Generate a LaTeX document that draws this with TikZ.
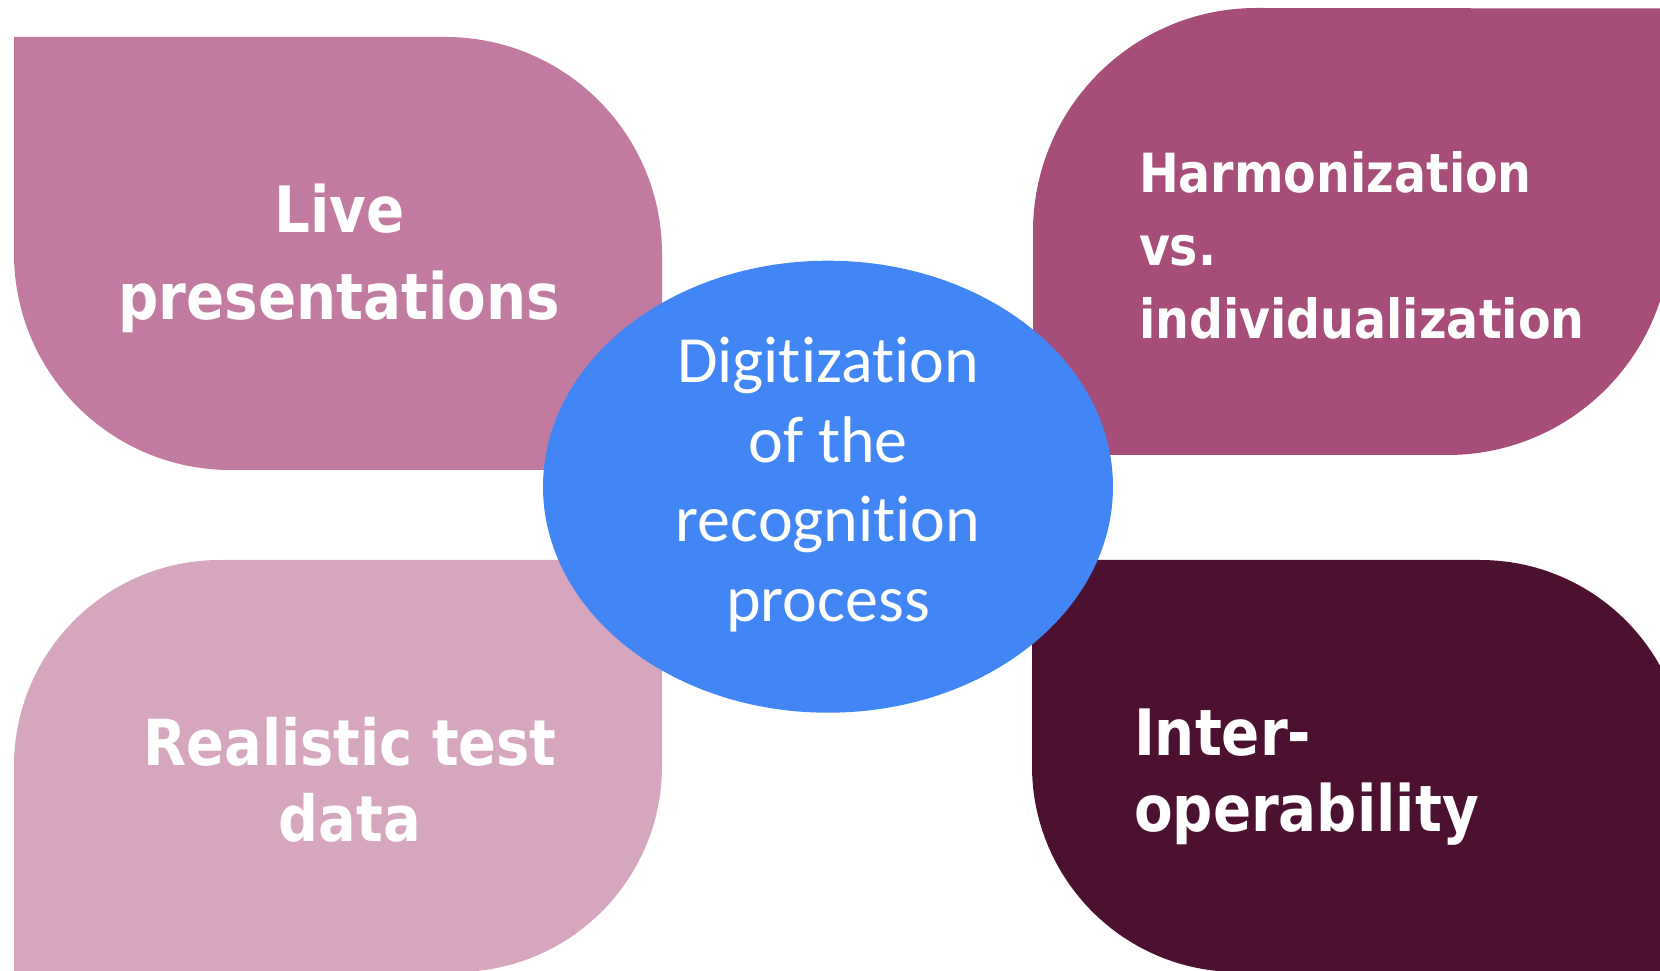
\documentclass[tikz,border=0pt]{standalone}
\usepackage{fontspec}
\usetikzlibrary{shapes.geometric}
\newfontfamily\boxfont{DejaVu Sans Bold}[FakeStretch=0.88]
\newfontfamily\corefont{Carlito}[Ligatures=NoCommon]
\definecolor{cTL}{HTML}{C27BA0}
\definecolor{cTR}{HTML}{A64D79}
\definecolor{cBL}{HTML}{D5A6BD}
\definecolor{cBR}{HTML}{4C1130}
\definecolor{cCore}{HTML}{4285F4}
\tikzset{
  label/.style={text=white, inner sep=0pt, outer sep=0pt, anchor=base},
}
\begin{document}
\begin{tikzpicture}[x=1pt,y=1pt]
\useasboundingbox (0,0) rectangle (1660,970);
\clip (0,0) rectangle (1660,970);
% top-left
\fill[cTL] (14,933) -- (445.5,933) arc[start angle=90,end angle=0,radius=216.5]
  -- (662,500) -- (230.5,500) arc[start angle=270,end angle=180,radius=216.5] -- cycle;
% top-right
\fill[cTR] (1033,738.5) arc[start angle=180,end angle=90,radius=223.5]
  -- (1671,961.5) -- (1671,738.5) arc[start angle=0,end angle=-90,radius=223.5]
  -- (1033,515) -- cycle;
% bottom-left
\fill[cBL] (14,204) arc[start angle=180,end angle=90,radius=206]
  -- (662,410) -- (662,204) arc[start angle=0,end angle=-90,radius=206]
  -- (14,-2) -- cycle;
% bottom-right
\fill[cBR] (1032,410) -- (1480,410) arc[start angle=90,end angle=0,radius=206]
  -- (1686,-2) -- (1238,-2) arc[start angle=270,end angle=180,radius=206] -- cycle;
% centre ellipse
\node (core) [ellipse, fill=cCore, inner sep=0pt, minimum width=570, minimum height=452] at (828,483.3) {};

\node (live) [label, align=center, font=\boxfont\fontsize{64}{87.3}\selectfont] at (339.4,650) {Live\\presentations};
\node (harm) [label, align=left, anchor=base west, font=\boxfont\fontsize{54}{73}\selectfont] at (1139,631.3) {Harmonization\\vs.\\individualization};
\node (real) [label, align=center, font=\boxfont\fontsize{63.5}{76.7}\selectfont] at (350,128.3) {Realistic test\\data};
\node (inter) [label, align=left, anchor=base west, font=\boxfont\fontsize{64}{76.7}\selectfont] at (1134,138.3) {Inter-\\operability};
\node (coretext) [label, align=center, font=\corefont\fontsize{66}{79.7}\selectfont] at (828,348.3) {Digitization\\of the\\recognition\\process};
\end{tikzpicture}
\end{document}
